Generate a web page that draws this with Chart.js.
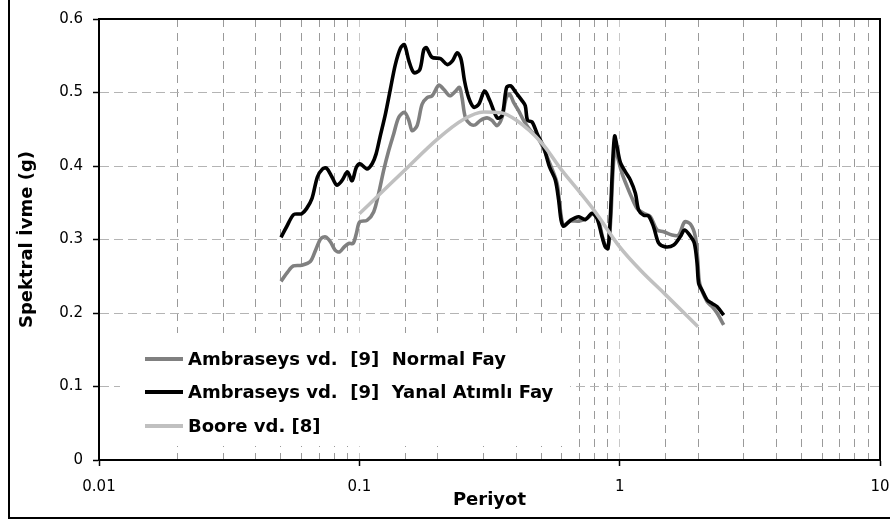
<!DOCTYPE html>
<html><head><meta charset="utf-8">
<script src="https://cdn.jsdelivr.net/npm/chart.js@4/dist/chart.umd.min.js"></script>
<style>html,body{margin:0;padding:0;background:#fff;}canvas{display:block;}</style>
</head><body>
<canvas id="c" width="890" height="522"></canvas>
<script>
// ---- series labels ----
const seriesLabels = ['Ambraseys vd.  [9]  Normal Fay', 'Ambraseys vd.  [9]  Yanal Atımlı Fay', 'Boore vd. [8]'];

// ---- Ambraseys Normal Fay (period, g) ----
const normalX = [0.05,0.0531,0.0558,0.06,0.0648,0.0679,0.0711,0.0742,0.0774,0.0807,0.0839,0.0875,0.091,0.0946,0.0974,0.1003,0.107,0.1135,0.1185,0.124,0.1297,0.1355,0.1416,0.149,0.155,0.1595,0.1667,0.1742,0.1822,0.1905,0.202,0.2113,0.2228,0.2344,0.2424,0.248,0.2553,0.2667,0.2787,0.2915,0.3094,0.3233,0.338,0.3535,0.3668,0.3778,0.3914,0.409,0.4277,0.4538,0.482,0.51,0.542,0.575,0.592,0.609,0.647,0.696,0.75,0.795,0.83,0.86,0.885,0.905,0.925,0.94,0.96,0.985,1.021,1.068,1.116,1.166,1.237,1.312,1.392,1.476,1.589,1.685,1.777,1.869,1.953,1.995,2.03,2.167,2.266,2.369,2.51];
const normalY = [0.243,0.256,0.264,0.265,0.270,0.2855,0.301,0.3036,0.297,0.2856,0.283,0.290,0.2946,0.2946,0.308,0.324,0.326,0.3375,0.362,0.394,0.421,0.4436,0.466,0.473,0.462,0.448,0.455,0.484,0.493,0.4955,0.510,0.504,0.4955,0.502,0.507,0.493,0.4664,0.457,0.456,0.462,0.4655,0.462,0.455,0.4664,0.493,0.4978,0.4865,0.4753,0.462,0.4484,0.4395,0.4238,0.4014,0.3764,0.340,0.3195,0.325,0.325,0.329,0.336,0.326,0.303,0.290,0.292,0.330,0.385,0.425,0.410,0.390,0.372,0.356,0.3424,0.3356,0.331,0.313,0.3106,0.306,0.306,0.324,0.321,0.304,0.272,0.240,0.2154,0.2086,0.1996,0.1837];

// ---- Ambraseys Yanal Atımlı Fay (period, g) ----
const yanalX = [0.05,0.0525,0.056,0.06,0.0627,0.0658,0.069,0.0722,0.0748,0.0785,0.0819,0.0857,0.09,0.0938,0.0973,0.1005,0.107,0.112,0.116,0.12,0.126,0.1315,0.1375,0.144,0.149,0.155,0.162,0.1706,0.1768,0.181,0.19,0.205,0.2175,0.2274,0.2377,0.246,0.2535,0.263,0.275,0.2875,0.3027,0.317,0.3285,0.34,0.354,0.368,0.382,0.3993,0.4216,0.4339,0.4428,0.4605,0.482,0.51,0.5375,0.566,0.583,0.5956,0.609,0.647,0.696,0.738,0.783,0.819,0.856,0.881,0.902,0.921,0.935,0.945,0.957,0.975,1.006,1.052,1.099,1.149,1.183,1.237,1.292,1.351,1.413,1.498,1.613,1.711,1.773,1.857,1.936,1.983,2.012,2.073,2.167,2.266,2.369,2.51];
const yanalY = [0.303,0.317,0.334,0.335,0.342,0.356,0.385,0.396,0.397,0.385,0.374,0.380,0.392,0.380,0.398,0.403,0.396,0.403,0.4165,0.439,0.471,0.504,0.538,0.5605,0.565,0.543,0.527,0.531,0.558,0.561,0.548,0.546,0.538,0.5426,0.554,0.545,0.516,0.493,0.480,0.484,0.502,0.489,0.475,0.465,0.469,0.507,0.509,0.500,0.489,0.482,0.462,0.460,0.444,0.426,0.399,0.381,0.3536,0.3264,0.318,0.326,0.331,0.327,0.3355,0.3286,0.3036,0.290,0.2877,0.331,0.3855,0.420,0.441,0.428,0.405,0.392,0.381,0.363,0.340,0.333,0.332,0.317,0.295,0.290,0.2925,0.304,0.313,0.306,0.295,0.2676,0.240,0.231,0.2177,0.213,0.2086,0.197];

// ---- Boore (period, g) ----
const booreX = [0.1,0.125,0.15,0.2,0.25,0.3,0.35,0.4,0.5,0.6,0.7,0.8,1.0,1.2,1.5,2.0];
const booreY = [0.335,0.368,0.395,0.437,0.463,0.4735,0.4725,0.4625,0.432,0.394,0.365,0.339,0.290,0.2585,0.225,0.1814];

// ---- axis ticks ----
const xTickValues = [0.01, 0.1, 1, 10];
const xTickLabels = ['0.01', '0.1', '1', '10'];
const yTickValues = [0, 0.1, 0.2, 0.3, 0.4, 0.5, 0.6];
const yTickLabels = ['0', '0.1', '0.2', '0.3', '0.4', '0.5', '0.6'];

const xTitle = 'Periyot';
const yTitle = 'Spektral İvme (g)';

const FONT = "'DejaVu Sans', sans-serif";
const toPts = (xs, ys) => xs.map((x, i) => ({x, y: ys[i]}));
const isDecade = v => Math.abs(Math.log10(v) - Math.round(Math.log10(v))) < 1e-6;

const legendPlugin = {
  id: 'insideLegend',
  beforeDatasetsDraw(chart) {
    const ctx = chart.ctx, a = chart.chartArea;
    const bx = a.left + 21, by = a.top + 314, bw = 450, bh = 113;
    ctx.save();
    ctx.fillStyle = '#fff';
    ctx.fillRect(bx, by, bw, bh);
    ctx.font = 'bold 18px ' + FONT;
    ctx.textBaseline = 'middle';
    ctx.textAlign = 'left';
    const rowY = [by + 26, by + 59, by + 93];
    chart.data.datasets.forEach((ds, i) => {
      const y = rowY[i];
      ctx.strokeStyle = ds.borderColor;
      ctx.lineWidth = 4;
      ctx.beginPath(); ctx.moveTo(bx + 25, y); ctx.lineTo(bx + 63, y); ctx.stroke();
      ctx.fillStyle = '#000';
      ctx.fillText(ds.label, bx + 68, y + 1);
    });
    ctx.restore();
  }
};

const framePlugin = {
  id: 'frame',
  afterDraw(chart) {
    const ctx = chart.ctx, a = chart.chartArea;
    ctx.save();
    ctx.strokeStyle = '#000';
    ctx.lineWidth = 2;
    ctx.strokeRect(a.left, a.top, a.right - a.left, a.bottom - a.top);
    ctx.beginPath();
    ctx.moveTo(9, 0); ctx.lineTo(9, 518); ctx.lineTo(chart.width, 518);
    ctx.stroke();
    ctx.restore();
  }
};

new Chart(document.getElementById('c'), {
  type: 'line',
  data: {
    datasets: [
      {label: seriesLabels[0], data: toPts(normalX, normalY), borderColor: '#808080', borderWidth: 3.6, pointRadius: 0, tension: 0.3, order: 2},
      {label: seriesLabels[1], data: toPts(yanalX, yanalY), borderColor: '#000000', borderWidth: 3.6, pointRadius: 0, tension: 0.3, order: 1},
      {label: seriesLabels[2], data: toPts(booreX, booreY), borderColor: '#c0c0c0', borderWidth: 3.6, pointRadius: 0, cubicInterpolationMode: 'monotone', order: 0}
    ]
  },
  options: {
    responsive: false,
    animation: false,
    events: [],
    layout: {padding: {left: 0, right: 10, top: 19, bottom: 0}},
    plugins: {legend: {display: false}, tooltip: {enabled: false}},
    scales: {
      x: {
        type: 'logarithmic',
        min: 0.01, max: 10,
        afterFit: s => { s.height = 62; s.paddingLeft = 0; s.paddingRight = 0; },
        border: {display: true, color: '#000', width: 2, dash: [8, 6]},
        grid: {
          color: c => (c.tick && isDecade(c.tick.value)) ? '#c8c8c8' : '#9a9a9a',
          lineWidth: 1,
          tickLength: 6,
          tickColor: c => (c.tick && isDecade(c.tick.value)) ? '#000' : 'rgba(0,0,0,0)',
          tickBorderDash: [],
          tickWidth: 1.5
        },
        ticks: {
          autoSkip: false, maxRotation: 0, padding: 12,
          color: '#000', font: {family: FONT, size: 15},
          callback: v => { const i = xTickValues.findIndex(t => Math.abs(Math.log10(v) - Math.log10(t)) < 1e-6); return i >= 0 ? xTickLabels[i] : ''; }
        },
        title: {display: true, text: xTitle, color: '#000', font: {family: FONT, size: 18, weight: 'bold'}, padding: {top: 0, bottom: 11}}
      },
      y: {
        type: 'linear',
        min: 0, max: 0.6,
        afterFit: s => { s.width = 99; s.paddingTop = 0; s.paddingBottom = 0; },
        border: {display: true, color: '#000', width: 2, dash: [9, 5]},
        grid: {color: '#b4b4b4', lineWidth: 1, tickLength: 6, tickColor: '#000', tickBorderDash: [], tickWidth: 1.5},
        ticks: {
          stepSize: 0.1, padding: 10, color: '#000', font: {family: FONT, size: 15},
          callback: v => { const i = yTickValues.findIndex(t => Math.abs(t - v) < 1e-9); return i >= 0 ? yTickLabels[i] : ''; }
        },
        title: {display: true, text: yTitle, color: '#000', font: {family: FONT, size: 18, weight: 'bold'}, padding: {top: 17, bottom: 0}}
      }
    }
  },
  plugins: [legendPlugin, framePlugin]
});
</script>
</body></html>
